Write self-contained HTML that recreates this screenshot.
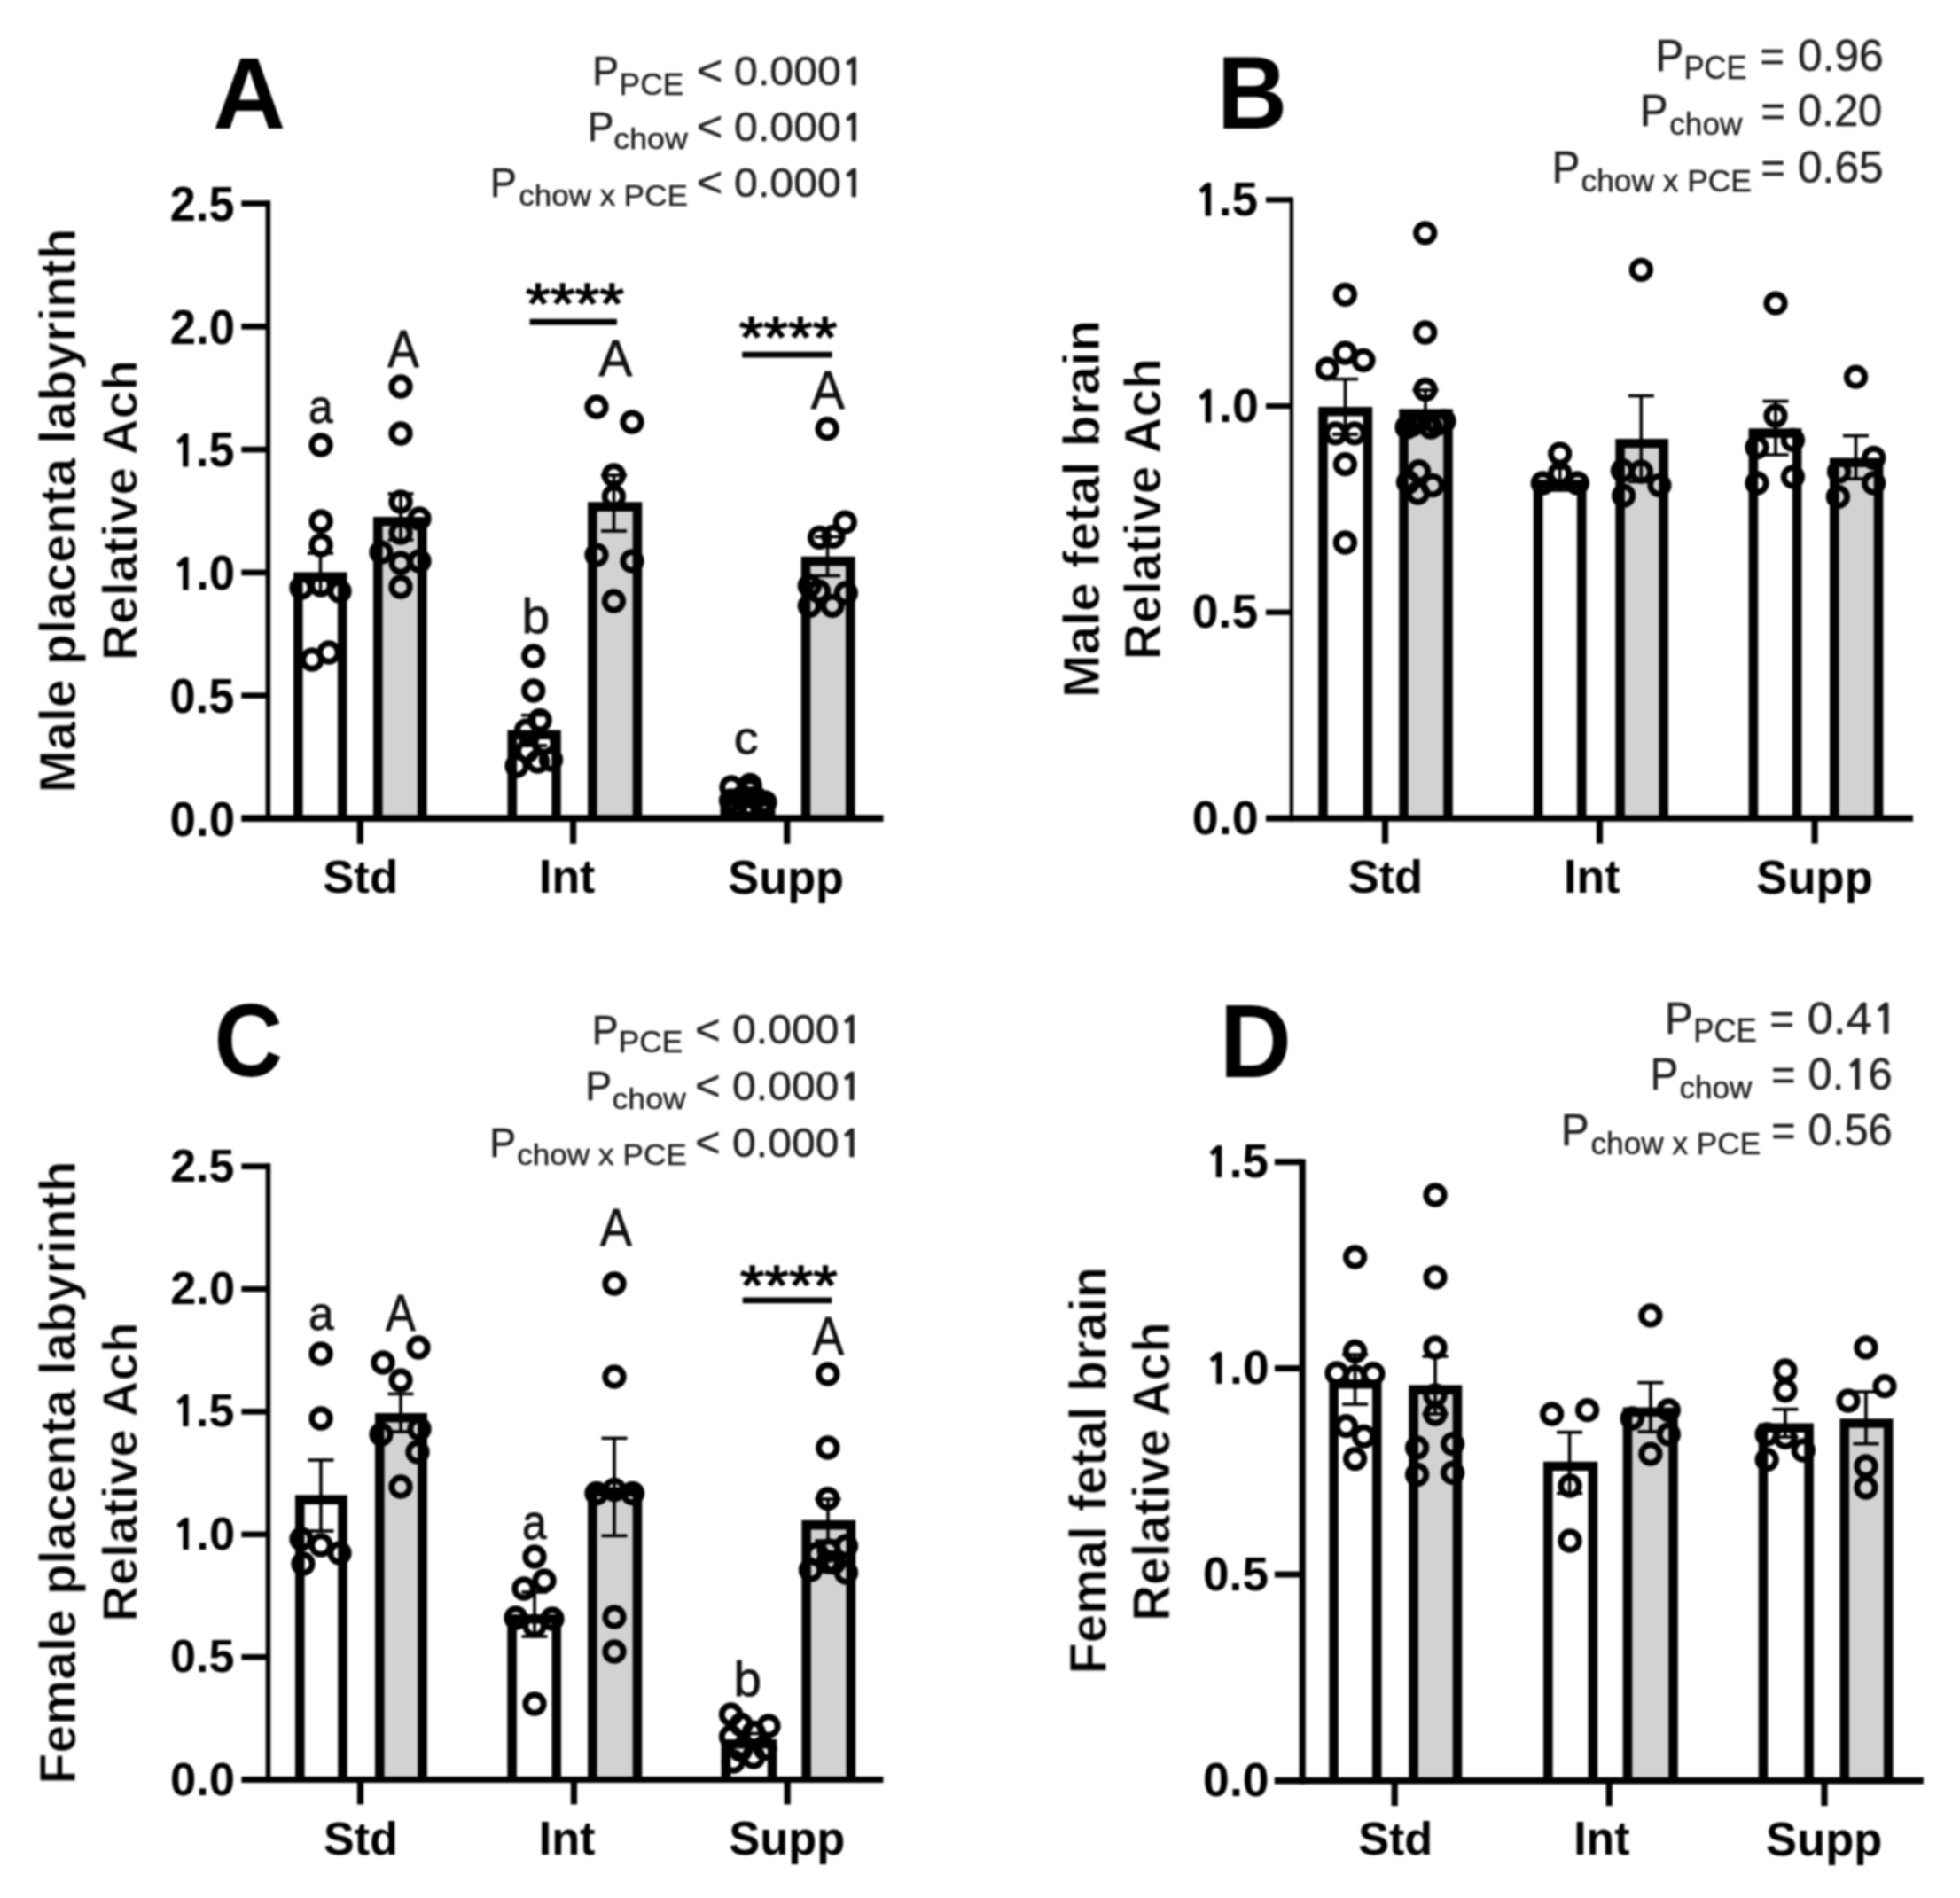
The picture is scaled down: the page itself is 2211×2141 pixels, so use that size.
<!DOCTYPE html>
<html><head><meta charset="utf-8"><title>Figure</title>
<style>html,body{margin:0;padding:0;background:#fff}svg{display:block}text{font-family:"Liberation Sans",Arial,Helvetica,sans-serif}</style>
</head><body>
<svg xmlns="http://www.w3.org/2000/svg" width="2211" height="2141" viewBox="0 0 2211 2141">
<defs><filter id="soft" x="0" y="0" width="2211" height="2141" filterUnits="userSpaceOnUse" color-interpolation-filters="sRGB"><feGaussianBlur stdDeviation="1.1"/></filter></defs>
<rect width="2211" height="2141" fill="#fff"/>
<g filter="url(#soft)">
<path d="M336.30,923.20V650.90H386.20V923.20" fill="#fff" stroke="#000" stroke-width="10.6" stroke-linejoin="miter"/>
<path d="M426.30,923.20V588.30H476.20V923.20" fill="#d2d2d2" stroke="#000" stroke-width="10.6" stroke-linejoin="miter"/>
<path d="M577.80,923.20V828.80H627.50V923.20" fill="#fff" stroke="#000" stroke-width="10.6" stroke-linejoin="miter"/>
<path d="M668.30,923.20V571.60H719.00V923.20" fill="#d2d2d2" stroke="#000" stroke-width="10.6" stroke-linejoin="miter"/>
<path d="M817.80,923.20V904.30H869.20V923.20" fill="#fff" stroke="#000" stroke-width="10.6" stroke-linejoin="miter"/>
<path d="M909.00,923.20V633.10H959.30V923.20" fill="#d2d2d2" stroke="#000" stroke-width="10.6" stroke-linejoin="miter"/>
<line x1="302.40" y1="226.30" x2="302.40" y2="927.00" stroke="#000" stroke-width="5.6"/>
<line x1="272.30" y1="229.60" x2="302.40" y2="229.60" stroke="#000" stroke-width="6.7"/>
<line x1="272.30" y1="368.35" x2="302.40" y2="368.35" stroke="#000" stroke-width="6.7"/>
<line x1="272.30" y1="507.10" x2="302.40" y2="507.10" stroke="#000" stroke-width="6.7"/>
<line x1="272.30" y1="645.85" x2="302.40" y2="645.85" stroke="#000" stroke-width="6.7"/>
<line x1="272.30" y1="784.60" x2="302.40" y2="784.60" stroke="#000" stroke-width="6.7"/>
<line x1="272.30" y1="923.20" x2="996.50" y2="923.20" stroke="#000" stroke-width="7.8"/>
<line x1="406.30" y1="923.20" x2="406.30" y2="951.80" stroke="#000" stroke-width="7.2"/>
<line x1="646.60" y1="923.20" x2="646.60" y2="951.80" stroke="#000" stroke-width="7.2"/>
<line x1="887.80" y1="923.20" x2="887.80" y2="951.80" stroke="#000" stroke-width="7.2"/>
<text transform="translate(191.87,248.95) scale(0.9519,1)" font-size="54.84" font-weight="700" fill="#000">2.5</text>
<text transform="translate(191.86,387.70) scale(0.9610,1)" font-size="54.84" font-weight="700" fill="#000">2.0</text>
<text transform="translate(191.87,526.45) scale(0.9519,1)" font-size="54.84" font-weight="700" fill="#000"><tspan font-family="NanumGothic,&quot;Liberation Sans&quot;,sans-serif" font-weight="800" font-size="48.81" dx="2.41">1</tspan><tspan dx="-1.50">.5</tspan></text>
<text transform="translate(191.86,665.20) scale(0.9610,1)" font-size="54.84" font-weight="700" fill="#000"><tspan font-family="NanumGothic,&quot;Liberation Sans&quot;,sans-serif" font-weight="800" font-size="48.81" dx="2.41">1</tspan><tspan dx="-1.50">.0</tspan></text>
<text transform="translate(191.60,803.95) scale(0.9555,1)" font-size="54.84" font-weight="700" fill="#000">0.5</text>
<text transform="translate(191.58,942.70) scale(0.9646,1)" font-size="54.84" font-weight="700" fill="#000">0.0</text>
<text transform="translate(364.22,1007.28) scale(1.0188,1)" font-size="51.70" font-weight="700" fill="#000">Std</text>
<text transform="translate(608.00,1007.27) scale(0.9720,1)" font-size="53.33" font-weight="700" fill="#000">Int</text>
<text transform="translate(821.23,1007.80) scale(0.9611,1)" font-size="54.48" font-weight="700" fill="#000">Supp</text>
<text transform="translate(239.95,144.50) scale(0.9836,1)" font-size="115.93" font-weight="700" fill="#000">A</text>
<text transform="translate(85.00,894.24) rotate(-90) scale(1.0096,1)" font-size="57.03" font-weight="700" fill="#000" stroke="#fff" stroke-width="0.9" stroke-linejoin="round">Male placenta labyrinth</text>
<text transform="translate(154.40,745.09) rotate(-90) scale(1.0267,1)" font-size="55.38" font-weight="700" fill="#000" stroke="#fff" stroke-width="0.9" stroke-linejoin="round">Relative Ach</text>
<line x1="361.50" y1="624.00" x2="361.50" y2="668.00" stroke="#000" stroke-width="3.6"/>
<line x1="347.00" y1="624.00" x2="376.00" y2="624.00" stroke="#000" stroke-width="3.6"/>
<line x1="347.00" y1="668.00" x2="376.00" y2="668.00" stroke="#000" stroke-width="3.6"/>
<line x1="452.00" y1="557.00" x2="452.00" y2="609.00" stroke="#000" stroke-width="3.6"/>
<line x1="437.50" y1="557.00" x2="466.50" y2="557.00" stroke="#000" stroke-width="3.6"/>
<line x1="437.50" y1="609.00" x2="466.50" y2="609.00" stroke="#000" stroke-width="3.6"/>
<line x1="602.50" y1="806.70" x2="602.50" y2="841.00" stroke="#000" stroke-width="3.6"/>
<line x1="588.00" y1="806.70" x2="617.00" y2="806.70" stroke="#000" stroke-width="3.6"/>
<line x1="588.00" y1="841.00" x2="617.00" y2="841.00" stroke="#000" stroke-width="3.6"/>
<line x1="692.50" y1="536.00" x2="692.50" y2="599.00" stroke="#000" stroke-width="3.6"/>
<line x1="678.00" y1="536.00" x2="707.00" y2="536.00" stroke="#000" stroke-width="3.6"/>
<line x1="678.00" y1="599.00" x2="707.00" y2="599.00" stroke="#000" stroke-width="3.6"/>
<line x1="843.50" y1="892.00" x2="843.50" y2="906.00" stroke="#000" stroke-width="3.6"/>
<line x1="831.50" y1="892.00" x2="855.50" y2="892.00" stroke="#000" stroke-width="3.6"/>
<line x1="831.50" y1="906.00" x2="855.50" y2="906.00" stroke="#000" stroke-width="3.6"/>
<line x1="933.50" y1="605.50" x2="933.50" y2="649.50" stroke="#000" stroke-width="3.6"/>
<line x1="919.00" y1="605.50" x2="948.00" y2="605.50" stroke="#000" stroke-width="3.6"/>
<line x1="919.00" y1="649.50" x2="948.00" y2="649.50" stroke="#000" stroke-width="3.6"/>
<circle cx="362.0" cy="502.0" r="10.2" fill="none" stroke="#000" stroke-width="6.9"/>
<circle cx="362.0" cy="588.0" r="10.2" fill="none" stroke="#000" stroke-width="6.9"/>
<circle cx="362.0" cy="615.0" r="10.2" fill="none" stroke="#000" stroke-width="6.9"/>
<circle cx="340.0" cy="663.0" r="10.2" fill="none" stroke="#000" stroke-width="6.9"/>
<circle cx="362.0" cy="660.0" r="10.2" fill="none" stroke="#000" stroke-width="6.9"/>
<circle cx="383.0" cy="667.0" r="10.2" fill="none" stroke="#000" stroke-width="6.9"/>
<circle cx="352.0" cy="744.0" r="10.2" fill="none" stroke="#000" stroke-width="6.9"/>
<circle cx="371.0" cy="736.0" r="10.2" fill="none" stroke="#000" stroke-width="6.9"/>
<circle cx="452.0" cy="436.0" r="10.2" fill="none" stroke="#000" stroke-width="6.9"/>
<circle cx="452.0" cy="489.0" r="10.2" fill="none" stroke="#000" stroke-width="6.9"/>
<circle cx="452.0" cy="566.0" r="10.2" fill="none" stroke="#000" stroke-width="6.9"/>
<circle cx="473.0" cy="585.0" r="10.2" fill="none" stroke="#000" stroke-width="6.9"/>
<circle cx="452.0" cy="601.0" r="10.2" fill="none" stroke="#000" stroke-width="6.9"/>
<circle cx="430.0" cy="623.0" r="10.2" fill="none" stroke="#000" stroke-width="6.9"/>
<circle cx="452.0" cy="635.0" r="10.2" fill="none" stroke="#000" stroke-width="6.9"/>
<circle cx="473.0" cy="633.0" r="10.2" fill="none" stroke="#000" stroke-width="6.9"/>
<circle cx="452.0" cy="662.0" r="10.2" fill="none" stroke="#000" stroke-width="6.9"/>
<circle cx="601.7" cy="740.0" r="10.2" fill="none" stroke="#000" stroke-width="6.9"/>
<circle cx="601.7" cy="779.0" r="10.2" fill="none" stroke="#000" stroke-width="6.9"/>
<circle cx="609.0" cy="812.5" r="10.2" fill="none" stroke="#000" stroke-width="6.9"/>
<circle cx="593.6" cy="824.0" r="10.2" fill="none" stroke="#000" stroke-width="6.9"/>
<circle cx="614.0" cy="838.0" r="10.2" fill="none" stroke="#000" stroke-width="6.9"/>
<circle cx="594.8" cy="847.0" r="10.2" fill="none" stroke="#000" stroke-width="6.9"/>
<circle cx="583.0" cy="864.0" r="10.2" fill="none" stroke="#000" stroke-width="6.9"/>
<circle cx="606.5" cy="859.0" r="10.2" fill="none" stroke="#000" stroke-width="6.9"/>
<circle cx="621.5" cy="857.0" r="10.2" fill="none" stroke="#000" stroke-width="6.9"/>
<circle cx="673.0" cy="459.0" r="10.2" fill="none" stroke="#000" stroke-width="6.9"/>
<circle cx="713.0" cy="476.0" r="10.2" fill="none" stroke="#000" stroke-width="6.9"/>
<circle cx="692.4" cy="536.0" r="10.2" fill="none" stroke="#000" stroke-width="6.9"/>
<circle cx="692.4" cy="560.0" r="10.2" fill="none" stroke="#000" stroke-width="6.9"/>
<circle cx="673.0" cy="626.0" r="10.2" fill="none" stroke="#000" stroke-width="6.9"/>
<circle cx="713.0" cy="633.0" r="10.2" fill="none" stroke="#000" stroke-width="6.9"/>
<circle cx="692.4" cy="678.0" r="10.2" fill="none" stroke="#000" stroke-width="6.9"/>
<circle cx="825.0" cy="888.0" r="10.2" fill="none" stroke="#000" stroke-width="6.9"/>
<circle cx="846.0" cy="885.5" r="10.2" fill="none" stroke="#000" stroke-width="6.9"/>
<circle cx="846.0" cy="891.0" r="10.2" fill="none" stroke="#000" stroke-width="6.9"/>
<circle cx="824.5" cy="903.0" r="10.2" fill="none" stroke="#000" stroke-width="6.9"/>
<circle cx="838.0" cy="899.0" r="10.2" fill="none" stroke="#000" stroke-width="6.9"/>
<circle cx="852.0" cy="900.0" r="10.2" fill="none" stroke="#000" stroke-width="6.9"/>
<circle cx="863.0" cy="905.0" r="10.2" fill="none" stroke="#000" stroke-width="6.9"/>
<circle cx="830.0" cy="908.5" r="10.2" fill="none" stroke="#000" stroke-width="6.9"/>
<circle cx="845.0" cy="908.5" r="10.2" fill="none" stroke="#000" stroke-width="6.9"/>
<circle cx="859.0" cy="908.5" r="10.2" fill="none" stroke="#000" stroke-width="6.9"/>
<circle cx="933.2" cy="483.7" r="10.2" fill="none" stroke="#000" stroke-width="6.9"/>
<circle cx="953.3" cy="589.2" r="10.2" fill="none" stroke="#000" stroke-width="6.9"/>
<circle cx="924.6" cy="606.3" r="10.2" fill="none" stroke="#000" stroke-width="6.9"/>
<circle cx="940.0" cy="605.3" r="10.2" fill="none" stroke="#000" stroke-width="6.9"/>
<circle cx="913.3" cy="660.7" r="10.2" fill="none" stroke="#000" stroke-width="6.9"/>
<circle cx="923.5" cy="667.0" r="10.2" fill="none" stroke="#000" stroke-width="6.9"/>
<circle cx="954.3" cy="669.0" r="10.2" fill="none" stroke="#000" stroke-width="6.9"/>
<circle cx="913.3" cy="683.3" r="10.2" fill="none" stroke="#000" stroke-width="6.9"/>
<circle cx="939.0" cy="683.3" r="10.2" fill="none" stroke="#000" stroke-width="6.9"/>
<text transform="translate(348.09,477.26) scale(0.9194,1)" font-size="54.06" fill="#111" stroke="#111" stroke-width="0.8" stroke-linejoin="round">a</text>
<text transform="translate(437.27,413.50) scale(0.9064,1)" font-size="58.62" fill="#111" stroke="#111" stroke-width="0.8" stroke-linejoin="round">A</text>
<text transform="translate(588.50,714.25) scale(1.0299,1)" font-size="55.24" fill="#111" stroke="#111" stroke-width="0.8" stroke-linejoin="round">b</text>
<text transform="translate(675.56,424.00) scale(1.0003,1)" font-size="56.44" fill="#111" stroke="#111" stroke-width="0.8" stroke-linejoin="round">A</text>
<text transform="translate(827.84,849.78) scale(1.0640,1)" font-size="52.24" fill="#111" stroke="#111" stroke-width="0.8" stroke-linejoin="round">c</text>
<text transform="translate(914.76,460.90) scale(0.9407,1)" font-size="60.65" fill="#111" stroke="#111" stroke-width="0.8" stroke-linejoin="round">A</text>
<text transform="translate(592.90,365.25) scale(1.1096,1)" font-size="64.29" fill="#000" stroke="#000" stroke-width="1.5" stroke-linejoin="round">****</text>
<line x1="597.60" y1="363.10" x2="695.90" y2="363.10" stroke="#000" stroke-width="6.8"/>
<text transform="translate(833.71,402.95) scale(1.1055,1)" font-size="64.29" fill="#000" stroke="#000" stroke-width="1.5" stroke-linejoin="round">****</text>
<line x1="837.20" y1="400.10" x2="938.60" y2="400.10" stroke="#000" stroke-width="6.8"/>
<text transform="translate(668.34,96.40) scale(0.9489,1)" font-size="47.06" fill="#222" stroke="#222" stroke-width="0.45" stroke-linejoin="round">P</text>
<text transform="translate(698.60,106.72) scale(1.0060,1)" font-size="35.21" fill="#222" stroke="#222" stroke-width="0.45" stroke-linejoin="round">PCE</text>
<text transform="translate(785.98,96.40) scale(1.0632,1)" font-size="47.32" fill="#222" stroke="#222" stroke-width="0.45">&lt;</text>
<text transform="translate(828.09,96.21) scale(1.0308,1)" font-size="46.82" fill="#222" stroke="#222" stroke-width="0.45" stroke-linejoin="round">0.000<tspan font-family="NanumGothic,&quot;Liberation Sans&quot;,sans-serif" font-weight="700" font-size="42.56" dx="0.23">1</tspan></text>
<text transform="translate(662.64,159.20) scale(0.9489,1)" font-size="47.06" fill="#222" stroke="#222" stroke-width="0.45" stroke-linejoin="round">P</text>
<text transform="translate(692.30,168.04) scale(1.0562,1)" font-size="33.89" fill="#222" stroke="#222" stroke-width="0.45" stroke-linejoin="round">chow</text>
<text transform="translate(785.98,159.20) scale(1.0632,1)" font-size="47.32" fill="#222" stroke="#222" stroke-width="0.45">&lt;</text>
<text transform="translate(828.09,159.01) scale(1.0308,1)" font-size="46.82" fill="#222" stroke="#222" stroke-width="0.45" stroke-linejoin="round">0.000<tspan font-family="NanumGothic,&quot;Liberation Sans&quot;,sans-serif" font-weight="700" font-size="42.56" dx="0.23">1</tspan></text>
<text transform="translate(553.04,222.00) scale(0.9489,1)" font-size="47.06" fill="#222" stroke="#222" stroke-width="0.45" stroke-linejoin="round">P</text>
<text transform="translate(585.24,232.34) scale(1.0331,1)" font-size="33.89" fill="#222" stroke="#222" stroke-width="0.45" stroke-linejoin="round">chow x PCE</text>
<text transform="translate(785.98,222.00) scale(1.0632,1)" font-size="47.32" fill="#222" stroke="#222" stroke-width="0.45">&lt;</text>
<text transform="translate(828.09,221.81) scale(1.0308,1)" font-size="46.82" fill="#222" stroke="#222" stroke-width="0.45" stroke-linejoin="round">0.000<tspan font-family="NanumGothic,&quot;Liberation Sans&quot;,sans-serif" font-weight="700" font-size="42.56" dx="0.23">1</tspan></text>
<path d="M1492.50,923.20V464.30H1542.90V923.20" fill="#fff" stroke="#000" stroke-width="10.6" stroke-linejoin="miter"/>
<path d="M1583.50,923.20V466.80H1633.50V923.20" fill="#d2d2d2" stroke="#000" stroke-width="10.6" stroke-linejoin="miter"/>
<path d="M1735.10,923.20V546.30H1784.20V923.20" fill="#fff" stroke="#000" stroke-width="10.6" stroke-linejoin="miter"/>
<path d="M1827.60,923.20V500.30H1876.70V923.20" fill="#d2d2d2" stroke="#000" stroke-width="10.6" stroke-linejoin="miter"/>
<path d="M1977.90,923.20V488.60H2027.10V923.20" fill="#fff" stroke="#000" stroke-width="10.6" stroke-linejoin="miter"/>
<path d="M2069.30,923.20V521.80H2119.10V923.20" fill="#d2d2d2" stroke="#000" stroke-width="10.6" stroke-linejoin="miter"/>
<line x1="1456.90" y1="222.20" x2="1456.90" y2="926.80" stroke="#000" stroke-width="4.4"/>
<line x1="1428.00" y1="225.40" x2="1456.90" y2="225.40" stroke="#000" stroke-width="6.4"/>
<line x1="1428.00" y1="458.05" x2="1456.90" y2="458.05" stroke="#000" stroke-width="6.4"/>
<line x1="1428.00" y1="690.70" x2="1456.90" y2="690.70" stroke="#000" stroke-width="6.4"/>
<line x1="1428.00" y1="923.20" x2="2158.00" y2="923.20" stroke="#000" stroke-width="7.2"/>
<line x1="1562.50" y1="923.20" x2="1562.50" y2="951.60" stroke="#000" stroke-width="7.2"/>
<line x1="1804.50" y1="923.20" x2="1804.50" y2="951.60" stroke="#000" stroke-width="7.2"/>
<line x1="2047.10" y1="923.20" x2="2047.10" y2="951.60" stroke="#000" stroke-width="7.2"/>
<text transform="translate(1345.14,243.16) scale(0.9813,1)" font-size="54.28" font-weight="700" fill="#000"><tspan font-family="NanumGothic,&quot;Liberation Sans&quot;,sans-serif" font-weight="800" font-size="48.31" dx="2.39">1</tspan><tspan dx="-1.49">.5</tspan></text>
<text transform="translate(1345.12,475.81) scale(0.9906,1)" font-size="54.28" font-weight="700" fill="#000"><tspan font-family="NanumGothic,&quot;Liberation Sans&quot;,sans-serif" font-weight="800" font-size="48.31" dx="2.39">1</tspan><tspan dx="-1.49">.0</tspan></text>
<text transform="translate(1344.86,708.46) scale(0.9850,1)" font-size="54.28" font-weight="700" fill="#000">0.5</text>
<text transform="translate(1344.84,941.11) scale(0.9944,1)" font-size="54.28" font-weight="700" fill="#000">0.0</text>
<text transform="translate(1520.63,1007.48) scale(1.0177,1)" font-size="51.56" font-weight="700" fill="#000">Std</text>
<text transform="translate(1764.10,1007.47) scale(0.9747,1)" font-size="53.19" font-weight="700" fill="#000">Int</text>
<text transform="translate(1981.32,1008.00) scale(0.9681,1)" font-size="54.34" font-weight="700" fill="#000">Supp</text>
<text transform="translate(1373.01,144.80) scale(0.9376,1)" font-size="116.80" font-weight="700" fill="#000">B</text>
<text transform="translate(1239.70,787.30) rotate(-90) scale(1.0269,1)" font-size="57.03" font-weight="700" fill="#000" stroke="#fff" stroke-width="0.9" stroke-linejoin="round">Male fetal brain</text>
<text transform="translate(1309.30,744.30) rotate(-90) scale(1.0103,1)" font-size="56.48" font-weight="700" fill="#000" stroke="#fff" stroke-width="0.9" stroke-linejoin="round">Relative Ach</text>
<line x1="1517.50" y1="427.60" x2="1517.50" y2="490.00" stroke="#000" stroke-width="3.6"/>
<line x1="1503.00" y1="427.60" x2="1532.00" y2="427.60" stroke="#000" stroke-width="3.6"/>
<line x1="1503.00" y1="490.00" x2="1532.00" y2="490.00" stroke="#000" stroke-width="3.6"/>
<line x1="1608.00" y1="440.00" x2="1608.00" y2="483.00" stroke="#000" stroke-width="3.6"/>
<line x1="1593.50" y1="440.00" x2="1622.50" y2="440.00" stroke="#000" stroke-width="3.6"/>
<line x1="1593.50" y1="483.00" x2="1622.50" y2="483.00" stroke="#000" stroke-width="3.6"/>
<line x1="1759.70" y1="528.00" x2="1759.70" y2="553.00" stroke="#000" stroke-width="3.6"/>
<line x1="1747.70" y1="528.00" x2="1771.70" y2="528.00" stroke="#000" stroke-width="3.6"/>
<line x1="1747.70" y1="553.00" x2="1771.70" y2="553.00" stroke="#000" stroke-width="3.6"/>
<line x1="1851.30" y1="446.60" x2="1851.30" y2="543.40" stroke="#000" stroke-width="3.6"/>
<line x1="1836.80" y1="446.60" x2="1865.80" y2="446.60" stroke="#000" stroke-width="3.6"/>
<line x1="1836.80" y1="543.40" x2="1865.80" y2="543.40" stroke="#000" stroke-width="3.6"/>
<line x1="2003.00" y1="452.50" x2="2003.00" y2="513.00" stroke="#000" stroke-width="3.6"/>
<line x1="1988.50" y1="452.50" x2="2017.50" y2="452.50" stroke="#000" stroke-width="3.6"/>
<line x1="1988.50" y1="513.00" x2="2017.50" y2="513.00" stroke="#000" stroke-width="3.6"/>
<line x1="2093.50" y1="491.60" x2="2093.50" y2="540.00" stroke="#000" stroke-width="3.6"/>
<line x1="2079.00" y1="491.60" x2="2108.00" y2="491.60" stroke="#000" stroke-width="3.6"/>
<line x1="2079.00" y1="540.00" x2="2108.00" y2="540.00" stroke="#000" stroke-width="3.6"/>
<circle cx="1517.4" cy="332.3" r="10.2" fill="none" stroke="#000" stroke-width="6.9"/>
<circle cx="1517.4" cy="398.0" r="10.2" fill="none" stroke="#000" stroke-width="6.9"/>
<circle cx="1497.2" cy="416.2" r="10.2" fill="none" stroke="#000" stroke-width="6.9"/>
<circle cx="1538.0" cy="406.3" r="10.2" fill="none" stroke="#000" stroke-width="6.9"/>
<circle cx="1506.7" cy="488.8" r="10.2" fill="none" stroke="#000" stroke-width="6.9"/>
<circle cx="1528.0" cy="488.8" r="10.2" fill="none" stroke="#000" stroke-width="6.9"/>
<circle cx="1517.4" cy="523.6" r="10.2" fill="none" stroke="#000" stroke-width="6.9"/>
<circle cx="1517.4" cy="612.0" r="10.2" fill="none" stroke="#000" stroke-width="6.9"/>
<circle cx="1607.7" cy="262.8" r="10.2" fill="none" stroke="#000" stroke-width="6.9"/>
<circle cx="1607.7" cy="375.0" r="10.2" fill="none" stroke="#000" stroke-width="6.9"/>
<circle cx="1608.0" cy="439.5" r="10.2" fill="none" stroke="#000" stroke-width="6.9"/>
<circle cx="1587.0" cy="482.0" r="10.2" fill="none" stroke="#000" stroke-width="6.9"/>
<circle cx="1600.0" cy="476.0" r="10.2" fill="none" stroke="#000" stroke-width="6.9"/>
<circle cx="1614.0" cy="482.0" r="10.2" fill="none" stroke="#000" stroke-width="6.9"/>
<circle cx="1629.0" cy="475.0" r="10.2" fill="none" stroke="#000" stroke-width="6.9"/>
<circle cx="1593.5" cy="479.0" r="10.2" fill="none" stroke="#000" stroke-width="6.9"/>
<circle cx="1621.5" cy="478.0" r="10.2" fill="none" stroke="#000" stroke-width="6.9"/>
<circle cx="1600.6" cy="531.7" r="10.2" fill="none" stroke="#000" stroke-width="6.9"/>
<circle cx="1616.0" cy="547.5" r="10.2" fill="none" stroke="#000" stroke-width="6.9"/>
<circle cx="1599.5" cy="556.0" r="10.2" fill="none" stroke="#000" stroke-width="6.9"/>
<circle cx="1588.5" cy="544.0" r="10.2" fill="none" stroke="#000" stroke-width="6.9"/>
<circle cx="1759.7" cy="511.8" r="10.2" fill="none" stroke="#000" stroke-width="6.9"/>
<circle cx="1740.3" cy="545.0" r="10.2" fill="none" stroke="#000" stroke-width="6.9"/>
<circle cx="1779.4" cy="545.0" r="10.2" fill="none" stroke="#000" stroke-width="6.9"/>
<circle cx="1759.7" cy="534.0" r="10.2" fill="none" stroke="#000" stroke-width="6.9"/>
<circle cx="1851.3" cy="304.3" r="10.2" fill="none" stroke="#000" stroke-width="6.9"/>
<circle cx="1830.4" cy="530.7" r="10.2" fill="none" stroke="#000" stroke-width="6.9"/>
<circle cx="1851.3" cy="532.0" r="10.2" fill="none" stroke="#000" stroke-width="6.9"/>
<circle cx="1871.9" cy="547.3" r="10.2" fill="none" stroke="#000" stroke-width="6.9"/>
<circle cx="1831.6" cy="559.2" r="10.2" fill="none" stroke="#000" stroke-width="6.9"/>
<circle cx="2003.0" cy="342.2" r="10.2" fill="none" stroke="#000" stroke-width="6.9"/>
<circle cx="2003.0" cy="469.0" r="10.2" fill="none" stroke="#000" stroke-width="6.9"/>
<circle cx="1982.0" cy="504.6" r="10.2" fill="none" stroke="#000" stroke-width="6.9"/>
<circle cx="2022.4" cy="496.4" r="10.2" fill="none" stroke="#000" stroke-width="6.9"/>
<circle cx="1982.0" cy="545.0" r="10.2" fill="none" stroke="#000" stroke-width="6.9"/>
<circle cx="2022.4" cy="537.8" r="10.2" fill="none" stroke="#000" stroke-width="6.9"/>
<circle cx="2093.5" cy="425.2" r="10.2" fill="none" stroke="#000" stroke-width="6.9"/>
<circle cx="2113.7" cy="516.5" r="10.2" fill="none" stroke="#000" stroke-width="6.9"/>
<circle cx="2074.6" cy="532.0" r="10.2" fill="none" stroke="#000" stroke-width="6.9"/>
<circle cx="2113.7" cy="545.0" r="10.2" fill="none" stroke="#000" stroke-width="6.9"/>
<circle cx="2073.4" cy="560.4" r="10.2" fill="none" stroke="#000" stroke-width="6.9"/>
<text transform="translate(1867.51,80.00) scale(0.9496,1)" font-size="49.97" fill="#222" stroke="#222" stroke-width="0.45" stroke-linejoin="round">P</text>
<text transform="translate(1899.69,89.11) scale(0.9493,1)" font-size="36.22" fill="#222" stroke="#222" stroke-width="0.45" stroke-linejoin="round">PCE</text>
<text transform="translate(1985.57,80.00) scale(0.9351,1)" font-size="50.23" fill="#222" stroke="#222" stroke-width="0.45">=</text>
<text transform="translate(2028.04,79.78) scale(0.9996,1)" font-size="49.66" fill="#222" stroke="#222" stroke-width="0.45" stroke-linejoin="round">0.96</text>
<text transform="translate(1850.11,142.40) scale(0.9496,1)" font-size="49.97" fill="#222" stroke="#222" stroke-width="0.45" stroke-linejoin="round">P</text>
<text transform="translate(1883.23,152.33) scale(1.0104,1)" font-size="34.87" fill="#222" stroke="#222" stroke-width="0.45" stroke-linejoin="round">chow</text>
<text transform="translate(1986.57,142.40) scale(0.9351,1)" font-size="50.23" fill="#222" stroke="#222" stroke-width="0.45">=</text>
<text transform="translate(2028.07,142.18) scale(0.9861,1)" font-size="49.66" fill="#222" stroke="#222" stroke-width="0.45" stroke-linejoin="round">0.20</text>
<text transform="translate(1750.71,206.00) scale(0.9496,1)" font-size="49.97" fill="#222" stroke="#222" stroke-width="0.45" stroke-linejoin="round">P</text>
<text transform="translate(1783.52,215.73) scale(1.0133,1)" font-size="34.87" fill="#222" stroke="#222" stroke-width="0.45" stroke-linejoin="round">chow x PCE</text>
<text transform="translate(1986.57,206.00) scale(0.9351,1)" font-size="50.23" fill="#222" stroke="#222" stroke-width="0.45">=</text>
<text transform="translate(2028.04,205.78) scale(0.9983,1)" font-size="49.66" fill="#222" stroke="#222" stroke-width="0.45" stroke-linejoin="round">0.65</text>
<path d="M338.30,2007.40V1691.70H386.50V2007.40" fill="#fff" stroke="#000" stroke-width="10.6" stroke-linejoin="miter"/>
<path d="M428.30,2007.40V1599.30H476.50V2007.40" fill="#d2d2d2" stroke="#000" stroke-width="10.6" stroke-linejoin="miter"/>
<path d="M577.60,2007.40V1826.30H627.70V2007.40" fill="#fff" stroke="#000" stroke-width="10.6" stroke-linejoin="miter"/>
<path d="M668.30,2007.40V1682.70H719.00V2007.40" fill="#d2d2d2" stroke="#000" stroke-width="10.6" stroke-linejoin="miter"/>
<path d="M818.90,2007.40V1967.30H871.10V2007.40" fill="#fff" stroke="#000" stroke-width="10.6" stroke-linejoin="miter"/>
<path d="M909.60,2007.40V1720.10H959.90V2007.40" fill="#d2d2d2" stroke="#000" stroke-width="10.6" stroke-linejoin="miter"/>
<line x1="302.50" y1="1312.30" x2="302.50" y2="2010.90" stroke="#000" stroke-width="5.6"/>
<line x1="272.40" y1="1315.60" x2="302.50" y2="1315.60" stroke="#000" stroke-width="6.6"/>
<line x1="272.40" y1="1454.00" x2="302.50" y2="1454.00" stroke="#000" stroke-width="6.6"/>
<line x1="272.40" y1="1592.40" x2="302.50" y2="1592.40" stroke="#000" stroke-width="6.6"/>
<line x1="272.40" y1="1730.80" x2="302.50" y2="1730.80" stroke="#000" stroke-width="6.6"/>
<line x1="272.40" y1="1869.20" x2="302.50" y2="1869.20" stroke="#000" stroke-width="6.6"/>
<line x1="272.40" y1="2007.40" x2="996.40" y2="2007.40" stroke="#000" stroke-width="7.0"/>
<line x1="406.50" y1="2007.40" x2="406.50" y2="2035.40" stroke="#000" stroke-width="7.2"/>
<line x1="647.40" y1="2007.40" x2="647.40" y2="2035.40" stroke="#000" stroke-width="7.2"/>
<line x1="888.20" y1="2007.40" x2="888.20" y2="2035.40" stroke="#000" stroke-width="7.2"/>
<text transform="translate(192.18,1332.57) scale(0.9885,1)" font-size="52.58" font-weight="700" fill="#000">2.5</text>
<text transform="translate(192.16,1470.97) scale(0.9979,1)" font-size="52.58" font-weight="700" fill="#000">2.0</text>
<text transform="translate(192.18,1609.37) scale(0.9885,1)" font-size="52.58" font-weight="700" fill="#000"><tspan font-family="NanumGothic,&quot;Liberation Sans&quot;,sans-serif" font-weight="800" font-size="46.80" dx="2.31">1</tspan><tspan dx="-1.44">.5</tspan></text>
<text transform="translate(192.16,1747.77) scale(0.9979,1)" font-size="52.58" font-weight="700" fill="#000"><tspan font-family="NanumGothic,&quot;Liberation Sans&quot;,sans-serif" font-weight="800" font-size="46.80" dx="2.31">1</tspan><tspan dx="-1.44">.0</tspan></text>
<text transform="translate(191.91,1886.17) scale(0.9923,1)" font-size="52.58" font-weight="700" fill="#000">0.5</text>
<text transform="translate(191.89,2024.57) scale(1.0018,1)" font-size="52.58" font-weight="700" fill="#000">0.0</text>
<text transform="translate(364.94,2091.88) scale(1.0073,1)" font-size="51.70" font-weight="700" fill="#000">Std</text>
<text transform="translate(607.67,2091.87) scale(0.9803,1)" font-size="53.33" font-weight="700" fill="#000">Int</text>
<text transform="translate(822.23,2092.40) scale(0.9633,1)" font-size="54.48" font-weight="700" fill="#000">Supp</text>
<text transform="translate(241.50,1214.04) scale(0.9228,1)" font-size="116.47" font-weight="700" fill="#000">C</text>
<text transform="translate(85.00,2012.51) rotate(-90) scale(1.0038,1)" font-size="57.03" font-weight="700" fill="#000" stroke="#fff" stroke-width="0.9" stroke-linejoin="round">Female placenta labyrinth</text>
<text transform="translate(154.40,1829.48) rotate(-90) scale(1.0233,1)" font-size="55.38" font-weight="700" fill="#000" stroke="#fff" stroke-width="0.9" stroke-linejoin="round">Relative Ach</text>
<line x1="362.00" y1="1647.00" x2="362.00" y2="1727.00" stroke="#000" stroke-width="3.6"/>
<line x1="347.50" y1="1647.00" x2="376.50" y2="1647.00" stroke="#000" stroke-width="3.6"/>
<line x1="347.50" y1="1727.00" x2="376.50" y2="1727.00" stroke="#000" stroke-width="3.6"/>
<line x1="452.00" y1="1572.40" x2="452.00" y2="1615.00" stroke="#000" stroke-width="3.6"/>
<line x1="437.50" y1="1572.40" x2="466.50" y2="1572.40" stroke="#000" stroke-width="3.6"/>
<line x1="437.50" y1="1615.00" x2="466.50" y2="1615.00" stroke="#000" stroke-width="3.6"/>
<line x1="603.00" y1="1796.00" x2="603.00" y2="1846.00" stroke="#000" stroke-width="3.6"/>
<line x1="588.50" y1="1796.00" x2="617.50" y2="1796.00" stroke="#000" stroke-width="3.6"/>
<line x1="588.50" y1="1846.00" x2="617.50" y2="1846.00" stroke="#000" stroke-width="3.6"/>
<line x1="693.00" y1="1622.40" x2="693.00" y2="1732.40" stroke="#000" stroke-width="3.6"/>
<line x1="678.50" y1="1622.40" x2="707.50" y2="1622.40" stroke="#000" stroke-width="3.6"/>
<line x1="678.50" y1="1732.40" x2="707.50" y2="1732.40" stroke="#000" stroke-width="3.6"/>
<line x1="845.00" y1="1955.50" x2="845.00" y2="1968.50" stroke="#000" stroke-width="3.6"/>
<line x1="832.00" y1="1955.50" x2="858.00" y2="1955.50" stroke="#000" stroke-width="3.6"/>
<line x1="832.00" y1="1968.50" x2="858.00" y2="1968.50" stroke="#000" stroke-width="3.6"/>
<line x1="934.00" y1="1691.00" x2="934.00" y2="1738.00" stroke="#000" stroke-width="3.6"/>
<line x1="919.50" y1="1691.00" x2="948.50" y2="1691.00" stroke="#000" stroke-width="3.6"/>
<line x1="919.50" y1="1738.00" x2="948.50" y2="1738.00" stroke="#000" stroke-width="3.6"/>
<circle cx="362.0" cy="1527.0" r="10.2" fill="none" stroke="#000" stroke-width="6.9"/>
<circle cx="362.0" cy="1600.0" r="10.2" fill="none" stroke="#000" stroke-width="6.9"/>
<circle cx="340.0" cy="1736.0" r="10.2" fill="none" stroke="#000" stroke-width="6.9"/>
<circle cx="362.0" cy="1743.0" r="10.2" fill="none" stroke="#000" stroke-width="6.9"/>
<circle cx="383.0" cy="1752.0" r="10.2" fill="none" stroke="#000" stroke-width="6.9"/>
<circle cx="342.0" cy="1764.0" r="10.2" fill="none" stroke="#000" stroke-width="6.9"/>
<circle cx="472.0" cy="1520.0" r="10.2" fill="none" stroke="#000" stroke-width="6.9"/>
<circle cx="432.0" cy="1537.0" r="10.2" fill="none" stroke="#000" stroke-width="6.9"/>
<circle cx="452.0" cy="1557.0" r="10.2" fill="none" stroke="#000" stroke-width="6.9"/>
<circle cx="430.0" cy="1618.0" r="10.2" fill="none" stroke="#000" stroke-width="6.9"/>
<circle cx="473.0" cy="1612.0" r="10.2" fill="none" stroke="#000" stroke-width="6.9"/>
<circle cx="471.0" cy="1638.0" r="10.2" fill="none" stroke="#000" stroke-width="6.9"/>
<circle cx="452.0" cy="1677.0" r="10.2" fill="none" stroke="#000" stroke-width="6.9"/>
<circle cx="603.0" cy="1756.0" r="10.2" fill="none" stroke="#000" stroke-width="6.9"/>
<circle cx="614.0" cy="1783.0" r="10.2" fill="none" stroke="#000" stroke-width="6.9"/>
<circle cx="591.0" cy="1792.0" r="10.2" fill="none" stroke="#000" stroke-width="6.9"/>
<circle cx="582.0" cy="1825.0" r="10.2" fill="none" stroke="#000" stroke-width="6.9"/>
<circle cx="603.0" cy="1834.0" r="10.2" fill="none" stroke="#000" stroke-width="6.9"/>
<circle cx="623.0" cy="1826.0" r="10.2" fill="none" stroke="#000" stroke-width="6.9"/>
<circle cx="603.0" cy="1922.0" r="10.2" fill="none" stroke="#000" stroke-width="6.9"/>
<circle cx="693.0" cy="1448.0" r="10.2" fill="none" stroke="#000" stroke-width="6.9"/>
<circle cx="693.0" cy="1553.0" r="10.2" fill="none" stroke="#000" stroke-width="6.9"/>
<circle cx="673.0" cy="1684.5" r="10.2" fill="none" stroke="#000" stroke-width="6.9"/>
<circle cx="693.0" cy="1680.5" r="10.2" fill="none" stroke="#000" stroke-width="6.9"/>
<circle cx="713.5" cy="1684.5" r="10.2" fill="none" stroke="#000" stroke-width="6.9"/>
<circle cx="693.0" cy="1824.0" r="10.2" fill="none" stroke="#000" stroke-width="6.9"/>
<circle cx="693.0" cy="1863.0" r="10.2" fill="none" stroke="#000" stroke-width="6.9"/>
<circle cx="824.5" cy="1934.0" r="10.2" fill="none" stroke="#000" stroke-width="6.9"/>
<circle cx="836.0" cy="1945.5" r="10.2" fill="none" stroke="#000" stroke-width="6.9"/>
<circle cx="867.0" cy="1947.0" r="10.2" fill="none" stroke="#000" stroke-width="6.9"/>
<circle cx="850.3" cy="1954.5" r="10.2" fill="none" stroke="#000" stroke-width="6.9"/>
<circle cx="824.5" cy="1959.0" r="10.2" fill="none" stroke="#000" stroke-width="6.9"/>
<circle cx="835.5" cy="1974.0" r="10.2" fill="none" stroke="#000" stroke-width="6.9"/>
<circle cx="863.0" cy="1972.5" r="10.2" fill="none" stroke="#000" stroke-width="6.9"/>
<circle cx="850.0" cy="1982.0" r="10.2" fill="none" stroke="#000" stroke-width="6.9"/>
<circle cx="827.3" cy="1987.0" r="10.2" fill="none" stroke="#000" stroke-width="6.9"/>
<circle cx="933.8" cy="1550.0" r="10.2" fill="none" stroke="#000" stroke-width="6.9"/>
<circle cx="933.8" cy="1633.0" r="10.2" fill="none" stroke="#000" stroke-width="6.9"/>
<circle cx="933.8" cy="1690.7" r="10.2" fill="none" stroke="#000" stroke-width="6.9"/>
<circle cx="921.5" cy="1753.0" r="10.2" fill="none" stroke="#000" stroke-width="6.9"/>
<circle cx="954.5" cy="1744.0" r="10.2" fill="none" stroke="#000" stroke-width="6.9"/>
<circle cx="914.5" cy="1771.0" r="10.2" fill="none" stroke="#000" stroke-width="6.9"/>
<circle cx="934.0" cy="1762.0" r="10.2" fill="none" stroke="#000" stroke-width="6.9"/>
<circle cx="954.5" cy="1774.0" r="10.2" fill="none" stroke="#000" stroke-width="6.9"/>
<circle cx="935.0" cy="1749.0" r="10.2" fill="none" stroke="#000" stroke-width="6.9"/>
<circle cx="941.0" cy="1762.5" r="10.2" fill="none" stroke="#000" stroke-width="6.9"/>
<text transform="translate(348.00,1499.77) scale(0.9718,1)" font-size="53.15" fill="#111" stroke="#111" stroke-width="0.8" stroke-linejoin="round">a</text>
<text transform="translate(435.07,1501.00) scale(0.8761,1)" font-size="57.89" fill="#111" stroke="#111" stroke-width="0.8" stroke-linejoin="round">A</text>
<text transform="translate(589.09,1735.75) scale(0.9042,1)" font-size="54.98" fill="#111" stroke="#111" stroke-width="0.8" stroke-linejoin="round">a</text>
<text transform="translate(677.07,1405.00) scale(0.9055,1)" font-size="59.35" fill="#111" stroke="#111" stroke-width="0.8" stroke-linejoin="round">A</text>
<text transform="translate(827.53,1913.24) scale(1.0094,1)" font-size="55.92" fill="#111" stroke="#111" stroke-width="0.8" stroke-linejoin="round">b</text>
<text transform="translate(916.37,1528.20) scale(0.8796,1)" font-size="61.09" fill="#111" stroke="#111" stroke-width="0.8" stroke-linejoin="round">A</text>
<text transform="translate(834.71,1470.55) scale(1.1103,1)" font-size="63.71" fill="#000" stroke="#000" stroke-width="1.5" stroke-linejoin="round">****</text>
<line x1="837.70" y1="1466.80" x2="938.30" y2="1466.80" stroke="#000" stroke-width="6.8"/>
<text transform="translate(667.64,1177.60) scale(0.9489,1)" font-size="47.06" fill="#222" stroke="#222" stroke-width="0.45" stroke-linejoin="round">P</text>
<text transform="translate(697.72,1186.72) scale(1.0016,1)" font-size="35.21" fill="#222" stroke="#222" stroke-width="0.45" stroke-linejoin="round">PCE</text>
<text transform="translate(784.28,1177.60) scale(1.0240,1)" font-size="47.32" fill="#222" stroke="#222" stroke-width="0.45">&lt;</text>
<text transform="translate(826.10,1177.41) scale(1.0278,1)" font-size="46.82" fill="#222" stroke="#222" stroke-width="0.45" stroke-linejoin="round">0.000<tspan font-family="NanumGothic,&quot;Liberation Sans&quot;,sans-serif" font-weight="700" font-size="42.56" dx="0.23">1</tspan></text>
<text transform="translate(660.34,1241.40) scale(0.9489,1)" font-size="47.06" fill="#222" stroke="#222" stroke-width="0.45" stroke-linejoin="round">P</text>
<text transform="translate(690.51,1250.54) scale(1.0536,1)" font-size="33.89" fill="#222" stroke="#222" stroke-width="0.45" stroke-linejoin="round">chow</text>
<text transform="translate(784.28,1241.40) scale(1.0240,1)" font-size="47.32" fill="#222" stroke="#222" stroke-width="0.45">&lt;</text>
<text transform="translate(826.10,1241.21) scale(1.0278,1)" font-size="46.82" fill="#222" stroke="#222" stroke-width="0.45" stroke-linejoin="round">0.000<tspan font-family="NanumGothic,&quot;Liberation Sans&quot;,sans-serif" font-weight="700" font-size="42.56" dx="0.23">1</tspan></text>
<text transform="translate(552.34,1305.00) scale(0.9489,1)" font-size="47.06" fill="#222" stroke="#222" stroke-width="0.45" stroke-linejoin="round">P</text>
<text transform="translate(583.13,1313.74) scale(1.0386,1)" font-size="33.89" fill="#222" stroke="#222" stroke-width="0.45" stroke-linejoin="round">chow x PCE</text>
<text transform="translate(784.28,1305.00) scale(1.0240,1)" font-size="47.32" fill="#222" stroke="#222" stroke-width="0.45">&lt;</text>
<text transform="translate(826.10,1304.81) scale(1.0278,1)" font-size="46.82" fill="#222" stroke="#222" stroke-width="0.45" stroke-linejoin="round">0.000<tspan font-family="NanumGothic,&quot;Liberation Sans&quot;,sans-serif" font-weight="700" font-size="42.56" dx="0.23">1</tspan></text>
<path d="M1504.60,2008.60V1561.30H1553.30V2008.60" fill="#fff" stroke="#000" stroke-width="10.6" stroke-linejoin="miter"/>
<path d="M1594.60,2008.60V1567.70H1644.00V2008.60" fill="#d2d2d2" stroke="#000" stroke-width="10.6" stroke-linejoin="miter"/>
<path d="M1746.30,2008.60V1654.00H1796.90V2008.60" fill="#fff" stroke="#000" stroke-width="10.6" stroke-linejoin="miter"/>
<path d="M1836.00,2008.60V1592.80H1887.50V2008.60" fill="#d2d2d2" stroke="#000" stroke-width="10.6" stroke-linejoin="miter"/>
<path d="M1989.00,2008.60V1610.80H2040.60V2008.60" fill="#fff" stroke="#000" stroke-width="10.6" stroke-linejoin="miter"/>
<path d="M2080.70,2008.60V1605.50H2130.20V2008.60" fill="#d2d2d2" stroke="#000" stroke-width="10.6" stroke-linejoin="miter"/>
<line x1="1469.20" y1="1307.40" x2="1469.20" y2="2012.50" stroke="#000" stroke-width="7.2"/>
<line x1="1437.90" y1="1310.70" x2="1469.20" y2="1310.70" stroke="#000" stroke-width="7.0"/>
<line x1="1437.90" y1="1543.40" x2="1469.20" y2="1543.40" stroke="#000" stroke-width="7.0"/>
<line x1="1437.90" y1="1776.10" x2="1469.20" y2="1776.10" stroke="#000" stroke-width="7.0"/>
<line x1="1437.80" y1="2008.60" x2="2169.80" y2="2008.60" stroke="#000" stroke-width="7.8"/>
<line x1="1573.20" y1="2008.60" x2="1573.20" y2="2037.10" stroke="#000" stroke-width="7.2"/>
<line x1="1815.20" y1="2008.60" x2="1815.20" y2="2037.10" stroke="#000" stroke-width="7.2"/>
<line x1="2058.00" y1="2008.60" x2="2058.00" y2="2037.10" stroke="#000" stroke-width="7.2"/>
<text transform="translate(1357.35,1328.27) scale(0.9965,1)" font-size="53.14" font-weight="700" fill="#000"><tspan font-family="NanumGothic,&quot;Liberation Sans&quot;,sans-serif" font-weight="800" font-size="47.30" dx="2.34">1</tspan><tspan dx="-1.45">.5</tspan></text>
<text transform="translate(1357.33,1560.97) scale(1.0059,1)" font-size="53.14" font-weight="700" fill="#000"><tspan font-family="NanumGothic,&quot;Liberation Sans&quot;,sans-serif" font-weight="800" font-size="47.30" dx="2.34">1</tspan><tspan dx="-1.45">.0</tspan></text>
<text transform="translate(1357.07,1793.67) scale(1.0002,1)" font-size="53.14" font-weight="700" fill="#000">0.5</text>
<text transform="translate(1357.05,2026.37) scale(1.0098,1)" font-size="53.14" font-weight="700" fill="#000">0.0</text>
<text transform="translate(1532.13,2092.28) scale(1.0099,1)" font-size="51.70" font-weight="700" fill="#000">Std</text>
<text transform="translate(1775.20,2092.27) scale(0.9720,1)" font-size="53.33" font-weight="700" fill="#000">Int</text>
<text transform="translate(1992.12,2092.80) scale(0.9648,1)" font-size="54.48" font-weight="700" fill="#000">Supp</text>
<text transform="translate(1375.82,1214.80) scale(0.9617,1)" font-size="116.80" font-weight="700" fill="#000">D</text>
<text transform="translate(1247.90,1888.45) rotate(-90) scale(0.9879,1)" font-size="58.55" font-weight="700" fill="#000" stroke="#fff" stroke-width="0.9" stroke-linejoin="round">Femal fetal brain</text>
<text transform="translate(1319.30,1828.77) rotate(-90) scale(0.9672,1)" font-size="58.55" font-weight="700" fill="#000" stroke="#fff" stroke-width="0.9" stroke-linejoin="round">Relative Ach</text>
<line x1="1528.60" y1="1528.00" x2="1528.60" y2="1584.00" stroke="#000" stroke-width="3.6"/>
<line x1="1514.10" y1="1528.00" x2="1543.10" y2="1528.00" stroke="#000" stroke-width="3.6"/>
<line x1="1514.10" y1="1584.00" x2="1543.10" y2="1584.00" stroke="#000" stroke-width="3.6"/>
<line x1="1619.00" y1="1530.00" x2="1619.00" y2="1595.00" stroke="#000" stroke-width="3.6"/>
<line x1="1604.50" y1="1530.00" x2="1633.50" y2="1530.00" stroke="#000" stroke-width="3.6"/>
<line x1="1604.50" y1="1595.00" x2="1633.50" y2="1595.00" stroke="#000" stroke-width="3.6"/>
<line x1="1770.60" y1="1615.60" x2="1770.60" y2="1684.50" stroke="#000" stroke-width="3.6"/>
<line x1="1756.10" y1="1615.60" x2="1785.10" y2="1615.60" stroke="#000" stroke-width="3.6"/>
<line x1="1756.10" y1="1684.50" x2="1785.10" y2="1684.50" stroke="#000" stroke-width="3.6"/>
<line x1="1861.90" y1="1559.70" x2="1861.90" y2="1615.00" stroke="#000" stroke-width="3.6"/>
<line x1="1847.40" y1="1559.70" x2="1876.40" y2="1559.70" stroke="#000" stroke-width="3.6"/>
<line x1="1847.40" y1="1615.00" x2="1876.40" y2="1615.00" stroke="#000" stroke-width="3.6"/>
<line x1="2013.90" y1="1589.60" x2="2013.90" y2="1621.00" stroke="#000" stroke-width="3.6"/>
<line x1="1999.40" y1="1589.60" x2="2028.40" y2="1589.60" stroke="#000" stroke-width="3.6"/>
<line x1="1999.40" y1="1621.00" x2="2028.40" y2="1621.00" stroke="#000" stroke-width="3.6"/>
<line x1="2104.90" y1="1570.00" x2="2104.90" y2="1628.60" stroke="#000" stroke-width="3.6"/>
<line x1="2090.40" y1="1570.00" x2="2119.40" y2="1570.00" stroke="#000" stroke-width="3.6"/>
<line x1="2090.40" y1="1628.60" x2="2119.40" y2="1628.60" stroke="#000" stroke-width="3.6"/>
<circle cx="1528.6" cy="1418.0" r="10.2" fill="none" stroke="#000" stroke-width="6.9"/>
<circle cx="1528.6" cy="1524.4" r="10.2" fill="none" stroke="#000" stroke-width="6.9"/>
<circle cx="1508.0" cy="1549.0" r="10.2" fill="none" stroke="#000" stroke-width="6.9"/>
<circle cx="1549.0" cy="1549.7" r="10.2" fill="none" stroke="#000" stroke-width="6.9"/>
<circle cx="1528.6" cy="1553.0" r="10.2" fill="none" stroke="#000" stroke-width="6.9"/>
<circle cx="1518.5" cy="1608.7" r="10.2" fill="none" stroke="#000" stroke-width="6.9"/>
<circle cx="1538.5" cy="1620.3" r="10.2" fill="none" stroke="#000" stroke-width="6.9"/>
<circle cx="1528.6" cy="1645.6" r="10.2" fill="none" stroke="#000" stroke-width="6.9"/>
<circle cx="1619.0" cy="1348.0" r="10.2" fill="none" stroke="#000" stroke-width="6.9"/>
<circle cx="1619.0" cy="1440.8" r="10.2" fill="none" stroke="#000" stroke-width="6.9"/>
<circle cx="1619.0" cy="1520.0" r="10.2" fill="none" stroke="#000" stroke-width="6.9"/>
<circle cx="1619.0" cy="1574.0" r="10.2" fill="none" stroke="#000" stroke-width="6.9"/>
<circle cx="1619.0" cy="1595.0" r="10.2" fill="none" stroke="#000" stroke-width="6.9"/>
<circle cx="1598.6" cy="1633.0" r="10.2" fill="none" stroke="#000" stroke-width="6.9"/>
<circle cx="1638.6" cy="1628.8" r="10.2" fill="none" stroke="#000" stroke-width="6.9"/>
<circle cx="1598.6" cy="1663.5" r="10.2" fill="none" stroke="#000" stroke-width="6.9"/>
<circle cx="1638.6" cy="1661.4" r="10.2" fill="none" stroke="#000" stroke-width="6.9"/>
<circle cx="1750.6" cy="1595.0" r="10.2" fill="none" stroke="#000" stroke-width="6.9"/>
<circle cx="1790.6" cy="1590.7" r="10.2" fill="none" stroke="#000" stroke-width="6.9"/>
<circle cx="1771.0" cy="1676.0" r="10.2" fill="none" stroke="#000" stroke-width="6.9"/>
<circle cx="1771.0" cy="1738.0" r="10.2" fill="none" stroke="#000" stroke-width="6.9"/>
<circle cx="1861.9" cy="1483.9" r="10.2" fill="none" stroke="#000" stroke-width="6.9"/>
<circle cx="1882.3" cy="1590.7" r="10.2" fill="none" stroke="#000" stroke-width="6.9"/>
<circle cx="1841.2" cy="1600.0" r="10.2" fill="none" stroke="#000" stroke-width="6.9"/>
<circle cx="1882.3" cy="1618.0" r="10.2" fill="none" stroke="#000" stroke-width="6.9"/>
<circle cx="1861.9" cy="1640.0" r="10.2" fill="none" stroke="#000" stroke-width="6.9"/>
<circle cx="2013.9" cy="1546.0" r="10.2" fill="none" stroke="#000" stroke-width="6.9"/>
<circle cx="2013.9" cy="1568.6" r="10.2" fill="none" stroke="#000" stroke-width="6.9"/>
<circle cx="1993.2" cy="1618.0" r="10.2" fill="none" stroke="#000" stroke-width="6.9"/>
<circle cx="2013.9" cy="1621.3" r="10.2" fill="none" stroke="#000" stroke-width="6.9"/>
<circle cx="2034.3" cy="1636.0" r="10.2" fill="none" stroke="#000" stroke-width="6.9"/>
<circle cx="1993.2" cy="1646.6" r="10.2" fill="none" stroke="#000" stroke-width="6.9"/>
<circle cx="2104.9" cy="1520.0" r="10.2" fill="none" stroke="#000" stroke-width="6.9"/>
<circle cx="2126.0" cy="1563.7" r="10.2" fill="none" stroke="#000" stroke-width="6.9"/>
<circle cx="2084.9" cy="1580.0" r="10.2" fill="none" stroke="#000" stroke-width="6.9"/>
<circle cx="2104.9" cy="1654.0" r="10.2" fill="none" stroke="#000" stroke-width="6.9"/>
<circle cx="2104.9" cy="1678.0" r="10.2" fill="none" stroke="#000" stroke-width="6.9"/>
<text transform="translate(1878.11,1165.80) scale(0.9496,1)" font-size="49.97" fill="#222" stroke="#222" stroke-width="0.45" stroke-linejoin="round">P</text>
<text transform="translate(1910.15,1174.71) scale(0.9622,1)" font-size="36.22" fill="#222" stroke="#222" stroke-width="0.45" stroke-linejoin="round">PCE</text>
<text transform="translate(1996.57,1165.80) scale(0.9351,1)" font-size="50.23" fill="#222" stroke="#222" stroke-width="0.45">=</text>
<text transform="translate(2038.73,1165.58) scale(1.0561,1)" font-size="49.66" fill="#222" stroke="#222" stroke-width="0.45" stroke-linejoin="round">0.4<tspan font-family="NanumGothic,&quot;Liberation Sans&quot;,sans-serif" font-weight="700" font-size="45.13" dx="0.25">1</tspan></text>
<text transform="translate(1861.61,1228.80) scale(0.9496,1)" font-size="49.97" fill="#222" stroke="#222" stroke-width="0.45" stroke-linejoin="round">P</text>
<text transform="translate(1894.54,1238.73) scale(1.0054,1)" font-size="34.87" fill="#222" stroke="#222" stroke-width="0.45" stroke-linejoin="round">chow</text>
<text transform="translate(1998.29,1228.80) scale(0.9270,1)" font-size="50.23" fill="#222" stroke="#222" stroke-width="0.45">=</text>
<text transform="translate(2039.57,1228.58) scale(0.9855,1)" font-size="49.66" fill="#222" stroke="#222" stroke-width="0.45" stroke-linejoin="round">0.<tspan font-family="NanumGothic,&quot;Liberation Sans&quot;,sans-serif" font-weight="700" font-size="45.13" dx="0.25">1</tspan><tspan dx="0.01">6</tspan></text>
<text transform="translate(1761.11,1291.80) scale(0.9496,1)" font-size="49.97" fill="#222" stroke="#222" stroke-width="0.45" stroke-linejoin="round">P</text>
<text transform="translate(1794.53,1301.73) scale(1.0090,1)" font-size="34.87" fill="#222" stroke="#222" stroke-width="0.45" stroke-linejoin="round">chow x PCE</text>
<text transform="translate(1998.29,1291.80) scale(0.9270,1)" font-size="50.23" fill="#222" stroke="#222" stroke-width="0.45">=</text>
<text transform="translate(2039.57,1291.58) scale(0.9855,1)" font-size="49.66" fill="#222" stroke="#222" stroke-width="0.45" stroke-linejoin="round">0.56</text>
</g>
</svg>
</body></html>
